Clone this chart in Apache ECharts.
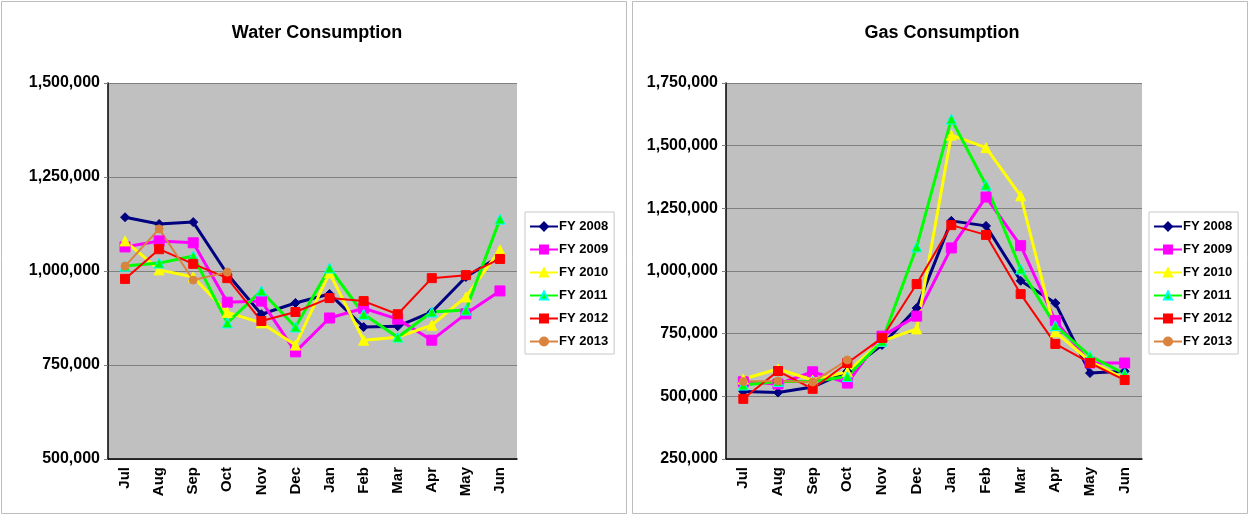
<!DOCTYPE html>
<html>
<head>
<meta charset="utf-8">
<script src="https://cdn.jsdelivr.net/npm/echarts@6/dist/echarts.min.js"></script>
<style>
  html, body { margin: 0; padding: 0; background: #fff; }
  #main { width: 1249px; height: 514px; }
</style>
</head>
<body>
<div id="main"></div>
<script>
const months = ["Jul", "Aug", "Sep", "Oct", "Nov", "Dec", "Jan", "Feb", "Mar", "Apr", "May", "Jun"];
const years = ["FY 2008", "FY 2009", "FY 2010", "FY 2011", "FY 2012", "FY 2013"];

// water use, one array per fiscal year
const water2008 = [1143000, 1125000, 1130000, 992000, 885000, 915000, 939000, 851000, 853000, 891000, 984000, 1040000];
const water2009 = [1064000, 1080000, 1075000, 917000, 920000, 785000, 875000, 901000, 872000, 816000, 886000, 947000];
const water2010 = [1080000, 1003000, 984000, 890000, 862000, 803000, 995000, 816000, 824000, 856000, 931000, 1056000];
const water2011 = [1013000, 1021000, 1040000, 862000, 947000, 851000, 1008000, 885000, 824000, 891000, 896000, 1138000];
const water2012 = [979000, 1058000, 1019000, 981000, 867000, 891000, 928000, 920000, 885000, 981000, 989000, 1032000];
const water2013 = [1013000, 1112000, 976000, 997000];

// gas use, one array per fiscal year
const gas2008 = [519000, 515000, 537000, 600000, 705000, 852000, 1200000, 1180000, 961000, 872000, 593000, 600000];
const gas2009 = [558000, 549000, 598000, 553000, 740000, 820000, 1092000, 1295000, 1101000, 802000, 633000, 633000];
const gas2010 = [569000, 609000, 565000, 598000, 720000, 769000, 1542000, 1492000, 1300000, 757000, 640000, 570000];
const gas2011 = [545000, 559000, 559000, 579000, 720000, 1096000, 1606000, 1343000, 1008000, 782000, 661000, 590000];
const gas2012 = [490000, 601000, 530000, 633000, 733000, 948000, 1183000, 1144000, 908000, 709000, 633000, 565000];
const gas2013 = [559000, 561000, 557000, 645000];

const styles = [
  { color: "#000080", symbol: "diamond", size: 9, width: 3, border: "#000080" },
  { color: "#FF00FF", symbol: "rect", size: 10, width: 3, border: "#FF00FF" },
  { color: "#FFFF00", symbol: "triangle", size: 10, width: 3, border: "#FFFF00" },
  { color: "#00FF00", symbol: "triangle", size: 10, width: 3, border: "#00FFFF" },
  { color: "#FF0000", symbol: "rect", size: 9, width: 2, border: "#FF0000" },
  { color: "#D9843E", symbol: "circle", size: 8, width: 2, border: "#D9843E" }
];

const font = "Liberation Sans, Arial, sans-serif";
const fmt = v => v.toLocaleString("en-US");

function makeSeries(list, idx) {
  return list.map((d, i) => ({
    name: years[i],
    type: "line",
    xAxisIndex: idx,
    yAxisIndex: idx,
    data: d,
    symbol: styles[i].symbol,
    symbolSize: styles[i].size,
    showAllSymbol: true,
    lineStyle: { color: styles[i].color, width: styles[i].width },
    itemStyle: { color: styles[i].color, borderColor: styles[i].border, borderWidth: 1 },
    emphasis: { disabled: true },
    animation: false
  }));
}

function xAxis(idx) {
  return {
    type: "category",
    gridIndex: idx,
    data: months,
    axisLine: { lineStyle: { color: "#000", width: 1.5 } },
    axisTick: { lineStyle: { color: "#808080" }, length: 4 },
    axisLabel: { rotate: 90, color: "#000", fontWeight: "bold", fontSize: 15, fontFamily: font, margin: 8 }
  };
}

function yAxis(idx, min, max) {
  return {
    type: "value",
    gridIndex: idx,
    min: min,
    max: max,
    interval: 250000,
    axisLine: { show: true, lineStyle: { color: "#000", width: 1.5 } },
    axisTick: { show: true, lineStyle: { color: "#808080" }, length: 4 },
    splitLine: { lineStyle: { color: "#808080", width: 1 } },
    axisLabel: { color: "#000", fontWeight: "bold", fontSize: 16, fontFamily: font, formatter: fmt, margin: 8 }
  };
}

function legend(left) {
  return {
    show: true,
    data: years,
    orient: "vertical",
    left: left,
    top: 212,
    itemWidth: 28,
    itemHeight: 10,
    itemGap: 10,
    padding: [8, 6, 6, 4],
    borderColor: "#C8C8C8",
    borderWidth: 1,
    backgroundColor: "#fff",
    selectedMode: false,
    textStyle: { color: "#000", fontWeight: "bold", fontSize: 13, fontFamily: font, padding: [0, 0, 0, -4] }
  };
}

const chart = echarts.init(document.getElementById("main"), null, { renderer: "canvas" });

const waterSeries = makeSeries([water2008, water2009, water2010, water2011, water2012, water2013], 0);
const gasSeries = makeSeries([gas2008, gas2009, gas2010, gas2011, gas2012, gas2013], 1);

chart.setOption({
  backgroundColor: "#fff",
  animation: false,
  graphic: [
    { type: "rect", shape: { x: 1.5, y: 1.5, width: 625, height: 512 }, style: { fill: "none", stroke: "#BDBDBD", lineWidth: 1 }, silent: true },
    { type: "rect", shape: { x: 632.5, y: 1.5, width: 615, height: 512 }, style: { fill: "none", stroke: "#BDBDBD", lineWidth: 1 }, silent: true }
  ],
  title: [
    { text: "Water Consumption", left: 312, top: 19, textAlign: "center", textStyle: { fontSize: 18, fontWeight: "bold", color: "#000", fontFamily: font } },
    { text: "Gas Consumption", left: 937, top: 19, textAlign: "center", textStyle: { fontSize: 18, fontWeight: "bold", color: "#000", fontFamily: font } }
  ],
  legend: [legend(525), legend(1149)],
  grid: [
    { left: 108, top: 83, width: 409, height: 376, show: true, backgroundColor: "#C0C0C0", borderWidth: 0 },
    { left: 726, top: 83, width: 416, height: 376, show: true, backgroundColor: "#C0C0C0", borderWidth: 0 }
  ],
  xAxis: [xAxis(0), xAxis(1)],
  yAxis: [yAxis(0, 500000, 1500000), yAxis(1, 250000, 1750000)],
  series: waterSeries.concat(gasSeries)
});
</script>
</body>
</html>
